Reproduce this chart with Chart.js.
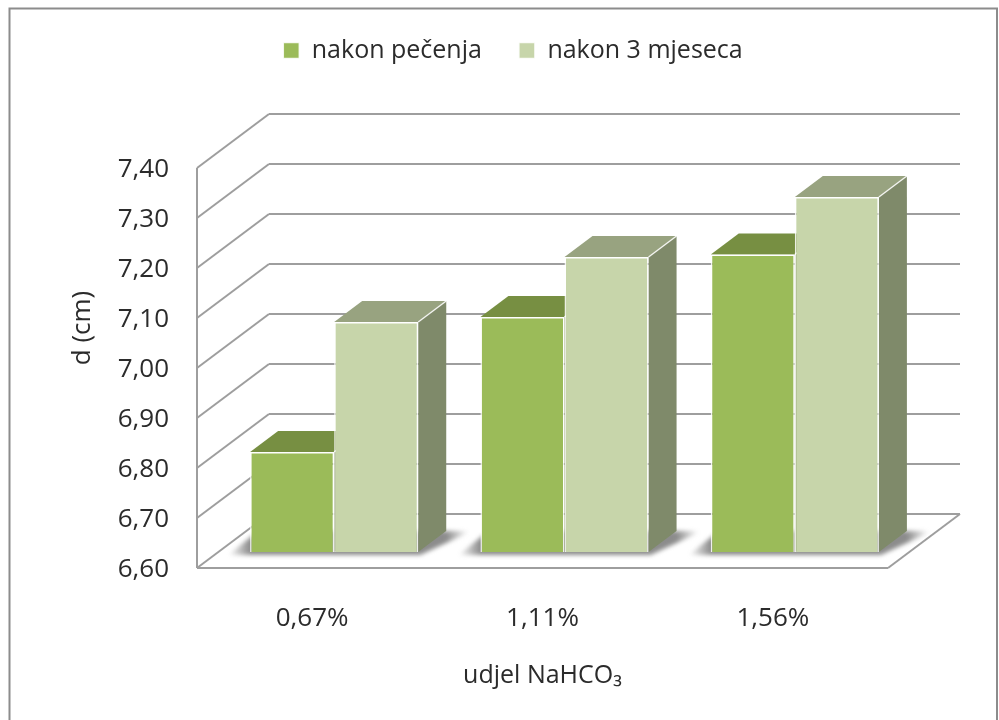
<!DOCTYPE html>
<html>
<head>
<meta charset="utf-8">
<style>
  html, body { margin: 0; background: #fff; }
  canvas { display: block; filter: blur(0.6px); }
</style>
<script src="https://cdn.jsdelivr.net/npm/chart.js@4"></script>
</head>
<body>
<canvas id="myChart" width="999" height="720"></canvas>
<script>
const categories = ['0,67%', '1,11%', '1,56%'];
const afterBaking = [6.80, 7.07, 7.195];
const afterThreeMonths = [7.06, 7.19, 7.31];
const seriesNames = ['nakon pečenja', 'nakon 3 mjeseca'];
const xTitle = 'udjel NaHCO₃';
const yTitle = 'd (cm)';
const yMin = 6.6;
const yMax = 7.4;

const FONT = '"Open Sans", sans-serif';
const TEXT = '#2b2b2b';
const GRID = '#9e9e9e';
// depth of the box and of the bars, and where the bars stand on the floor
const BOX = { dx: 72, dy: -54 };
const BAR = { dx: 28, dy: -21 };
const SHIFT = { dx: 22, dy: -16 };
const FACES = [
  { top: '#778f42', side: '#667a38' },
  { top: '#98a380', side: '#7f8a6a' },
];

const line = (ctx, x1, y1, x2, y2) => {
  ctx.beginPath();
  ctx.moveTo(x1, y1);
  ctx.lineTo(x2, y2);
  ctx.stroke();
};

const poly = (ctx, pts, fill) => {
  ctx.beginPath();
  pts.forEach(([x, y], i) => (i ? ctx.lineTo(x, y) : ctx.moveTo(x, y)));
  ctx.closePath();
  ctx.fillStyle = fill;
  ctx.fill();
};

const box3d = {
  id: 'box3d',
  beforeUpdate(chart) {
    // keep the plot area where the picture has it
    if (chart.legend.fitPatched) return;
    const { fit } = chart.legend;
    chart.legend.fit = function fitLegend() {
      fit.call(this);
      this.height = 167;
    };
    chart.legend.fitPatched = true;
  },
  afterLayout(chart) {
    // the legend sits right of the middle of the page
    chart.legend.left += 49;
    chart.legend.right += 49;
  },
  beforeDraw(chart) {
    const { ctx } = chart;
    ctx.save();
    ctx.strokeStyle = '#8c8c8c';
    ctx.lineWidth = 2;
    ctx.beginPath();
    ctx.moveTo(9.5, 730);
    ctx.lineTo(9.5, 8.5);
    ctx.lineTo(997, 8.5);
    ctx.lineTo(997, 730);
    ctx.stroke();
    ctx.restore();
  },
  beforeDatasetsDraw(chart) {
    const { ctx, chartArea: { left, right, bottom, top }, scales: { x, y } } = chart;
    ctx.save();
    ctx.strokeStyle = GRID;
    ctx.lineWidth = 2;
    y.ticks.forEach((t) => {
      const py = y.getPixelForValue(t.value);
      line(ctx, left, py, left + BOX.dx, py + BOX.dy);
      line(ctx, left + BOX.dx, py + BOX.dy, right + BOX.dx, py + BOX.dy);
    });
    line(ctx, left, top, left, bottom);
    line(ctx, left, bottom, right, bottom);
    line(ctx, right, bottom, right + BOX.dx, bottom + BOX.dy);

    const front = chart.getDatasetMeta(0).data;
    const back = chart.getDatasetMeta(1).data;
    // soft shadow on the floor round each pair of bars
    x.ticks.forEach((t, i) => {
      const x0 = front[i].x - front[i].width / 2 + SHIFT.dx;
      const x1 = back[i].x + back[i].width / 2 + SHIFT.dx;
      const by = bottom + SHIFT.dy;
      const g = ctx.createLinearGradient(x0 - 22, 0, x1 + 50, 0);
      const edge = 22 / (x1 - x0 + 72);
      g.addColorStop(0, 'rgba(120,120,120,0)');
      g.addColorStop(edge, 'rgba(120,120,120,.85)');
      g.addColorStop(1 - edge, 'rgba(120,120,120,.85)');
      g.addColorStop(1, 'rgba(120,120,120,0)');
      ctx.filter = 'blur(2px)';
      poly(ctx, [[x0 - 22, by + 3], [x1 + 2, by + 3], [x1 + BAR.dx + 26, by + BAR.dy], [x0 + 8, by + BAR.dy]], g);
      ctx.filter = 'none';
    });

    // top and side faces, the fronts come from the bars themselves
    [0, 1].forEach((d) => {
      chart.getDatasetMeta(d).data.forEach((bar) => {
        const l = bar.x - bar.width / 2 + SHIFT.dx;
        const r = bar.x + bar.width / 2 + SHIFT.dx;
        const t = bar.y + SHIFT.dy;
        const b = bar.base + SHIFT.dy;
        poly(ctx, [[r, t], [r + BAR.dx, t + BAR.dy], [r + BAR.dx, b + BAR.dy], [r, b]], FACES[d].side);
        poly(ctx, [[l, t], [l + BAR.dx, t + BAR.dy], [r + BAR.dx, t + BAR.dy], [r, t]], FACES[d].top);
        ctx.strokeStyle = 'rgba(255,255,255,.85)';
        ctx.lineWidth = 1.5;
        line(ctx, r, t, r + BAR.dx, t + BAR.dy);
      });
    });
    ctx.restore();
    // the bars stand further back on the floor than the axis
    ctx.save();
    ctx.translate(SHIFT.dx, SHIFT.dy);
  },
  afterDatasetsDraw(chart) {
    const { ctx, scales: { y } } = chart;
    ctx.restore();
    ctx.save();
    ctx.font = `26px ${FONT}`;
    ctx.fillStyle = TEXT;
    ctx.textAlign = 'center';
    ctx.textBaseline = 'middle';
    ctx.translate(83, 328);
    ctx.rotate(-Math.PI / 2);
    ctx.fillText(y.options.title.text, 0, 0);
    ctx.restore();
  },
};

const ctx = document.getElementById('myChart').getContext('2d');
new Chart(ctx, {
  type: 'bar',
  plugins: [box3d],
  data: {
    labels: categories,
    datasets: [{
      label: seriesNames[0],
      data: afterBaking,
      base: yMin,
      backgroundColor: '#9bbb59',
      borderColor: 'rgba(255,255,255,.85)',
      borderWidth: 1.5,
      clip: false,
    }, {
      label: seriesNames[1],
      data: afterThreeMonths,
      base: yMin,
      backgroundColor: '#c7d5aa',
      borderColor: 'rgba(255,255,255,.85)',
      borderWidth: 1.5,
      clip: false,
    }],
  },
  options: {
    responsive: false,
    animation: false,
    datasets: { bar: { categoryPercentage: 0.73, barPercentage: 1 } },
    layout: { padding: { left: 40, right: 111, top: 1, bottom: 0 } },
    plugins: {
      tooltip: { enabled: false },
      legend: {
        position: 'top',
        labels: {
          color: TEXT,
          font: { family: FONT, size: 25 },
          boxWidth: 16,
          boxHeight: 16,
          padding: 37,
        },
      },
    },
    scales: {
      x: {
        grid: { display: false },
        border: { display: false },
        ticks: { color: TEXT, font: { family: FONT, size: 26 }, padding: 27 },
        title: {
          display: true,
          text: xTitle,
          color: TEXT,
          font: { family: FONT, size: 25 },
          padding: { top: 28, bottom: 29 },
        },
        afterFit(scale) { scale.height = 152; },
      },
      y: {
        min: yMin,
        max: yMax,
        grid: { display: false },
        border: { display: false },
        ticks: {
          stepSize: 0.1,
          color: TEXT,
          font: { family: FONT, size: 26 },
          padding: 20,
          labelOffset: 2,
          callback: (value) => value.toFixed(2).replace('.', ','),
        },
        title: { display: false, text: yTitle },
        afterFit(scale) { scale.width = 157; },
      },
    },
  },
});
</script>
</body>
</html>
